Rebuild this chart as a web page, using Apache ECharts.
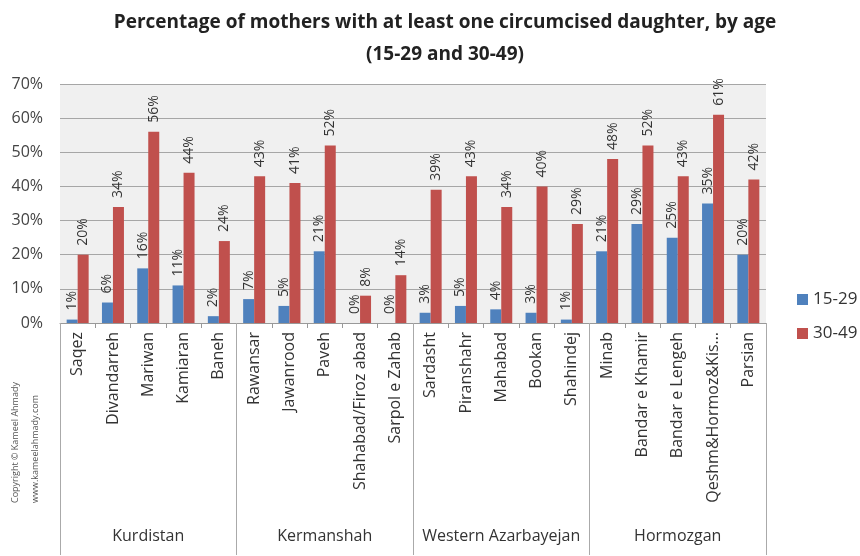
<!DOCTYPE html>
<html>
<head>
<meta charset="utf-8">
<script src="https://cdn.jsdelivr.net/npm/echarts@6/dist/echarts.min.js"></script>
<style>
  html, body { margin: 0; padding: 0; background: #fff; }
  #chart { width: 860px; height: 556px; }
</style>
</head>
<body>
<div id="chart"></div>
<script>
const cities = [
    'Saqez', 'Divandarreh', 'Mariwan', 'Kamiaran', 'Baneh',
    'Rawansar', 'Jawanrood', 'Paveh', 'Shahabad/Firoz abad', 'Sarpol e Zahab',
    'Sardasht', 'Piranshahr', 'Mahabad', 'Bookan', 'Shahindej',
    'Minab', 'Bandar e Khamir', 'Bandar e Lengeh', 'Qeshm&Hormoz&Kis…', 'Parsian'
];
const provinces = ['Kurdistan', 'Kermanshah', 'Western Azarbayejan', 'Hormozgan'];
const young = [1, 6, 16, 11, 2, 7, 5, 21, 0, 0, 3, 5, 4, 3, 1, 21, 29, 25, 35, 20];
const older = [20, 34, 56, 44, 24, 43, 41, 52, 8, 14, 39, 43, 34, 40, 29, 48, 52, 43, 61, 42];
const yTicks = [0, 10, 20, 30, 40, 50, 60, 70];

const chart = echarts.init(document.getElementById('chart'));
const font = '"Open Sans", "Noto Sans", sans-serif';

const barLabel = {
    show: true,
    position: 'top',
    rotate: 90,
    align: 'left',
    verticalAlign: 'middle',
    distance: 9,
    fontSize: 14,
    fontFamily: font,
    color: '#333',
    formatter: (p) => p.value + '%'
};

chart.setOption({
    animation: false,
    title: {
        text: 'Percentage of mothers with at least one circumcised daughter, by age\n(15-29 and 30-49)',
        left: 440,
        textAlign: 'center',
        top: 2,
        textStyle: { fontFamily: font, fontSize: 19, fontWeight: 'bold', color: '#222', lineHeight: 32 }
    },
    legend: {
        orient: 'vertical',
        left: 792,
        top: 286,
        itemGap: 17,
        itemWidth: 11,
        itemHeight: 11,
        icon: 'rect',
        textStyle: { fontFamily: font, fontSize: 17, color: '#333' },
        data: ['15-29', '30-49']
    },
    grid: {
        left: 60, right: 94, top: 84, bottom: 233,
        show: true, backgroundColor: '#f0f0f0', borderWidth: 0
    },
    xAxis: [
        {
            type: 'category',
            data: cities,
            axisLine: { lineStyle: { color: '#999' } },
            axisTick: { show: true, length: 5, lineStyle: { color: '#999' } },
            axisLabel: {
                interval: 0, rotate: 90, margin: 9,
                fontFamily: font, fontSize: 16, color: '#333'
            }
        },
        {
            type: 'category',
            data: provinces,
            position: 'bottom',
            axisLine: { show: false },
            axisTick: { show: true, length: 232, lineStyle: { color: '#aaa' } },
            axisLabel: {
                interval: 0, margin: 205,
                fontFamily: font, fontSize: 16, color: '#333'
            }
        }
    ],
    yAxis: {
        type: 'value',
        min: 0, max: 70, interval: 10,
        axisLine: { show: false },
        axisTick: { show: false },
        splitLine: { lineStyle: { color: '#a6a6a6' } },
        axisLabel: {
            margin: 17, fontFamily: font, fontSize: 16, color: '#444',
            formatter: (v) => (yTicks.includes(v) ? v + '%' : '')
        }
    },
    series: [
        {
            name: '15-29', type: 'bar', data: young, xAxisIndex: 0,
            barWidth: 11, barGap: '0%',
            itemStyle: { color: '#4f81bd' },
            label: barLabel
        },
        {
            name: '30-49', type: 'bar', data: older, xAxisIndex: 0,
            barWidth: 11, barGap: '0%',
            itemStyle: { color: '#c0504d' },
            label: barLabel
        }
    ],
    graphic: [
        {
            type: 'text', x: 11, y: 503, rotation: Math.PI / 2,
            style: { text: 'Copyright © Kameel Ahmady', fontSize: 9, fontFamily: font, fill: '#555' }
        },
        {
            type: 'text', x: 31, y: 503, rotation: Math.PI / 2,
            style: { text: 'www.kameelahmady.com', fontSize: 9, fontFamily: font, fill: '#555' }
        }
    ]
});

window.addEventListener('resize', () => chart.resize());
</script>
</body>
</html>
